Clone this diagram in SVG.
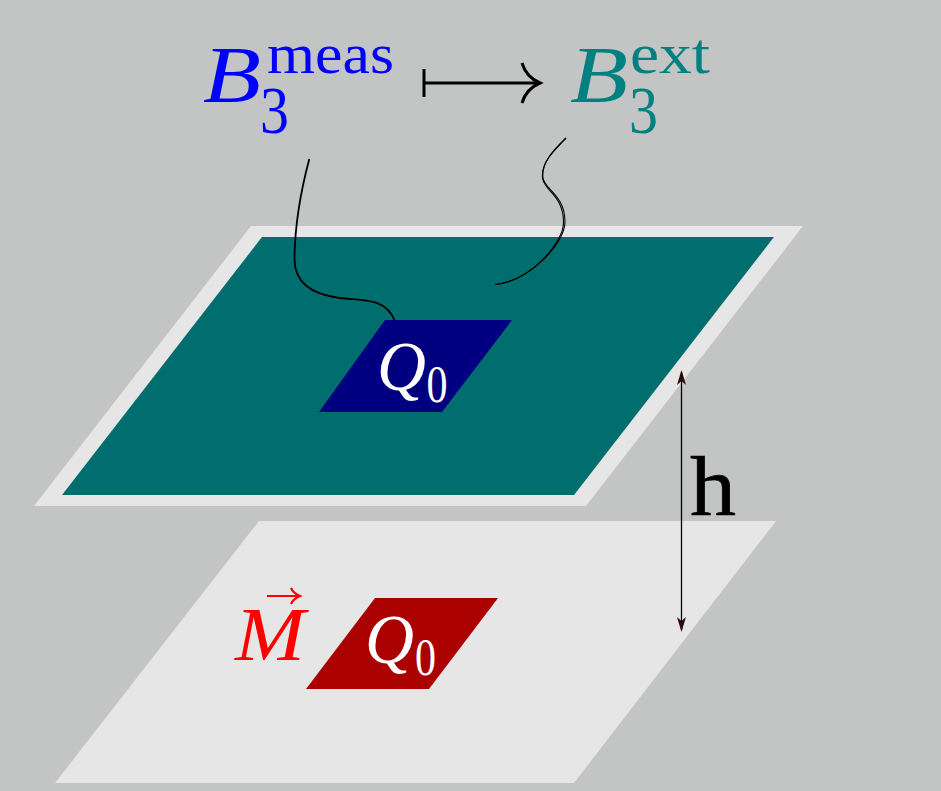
<svg xmlns="http://www.w3.org/2000/svg" width="941" height="791" viewBox="0 0 941 791">
<style>
text{font-family:"Liberation Serif","Times New Roman",serif}
.i{font-style:italic}
.w{fill:#fff}
.c{fill:none;stroke:#000}
</style>
<rect id="background" width="941" height="791" fill="#c3c5c4"/>
<g id="lower-plate"><polygon points="259,521 776,521 574,783 55,783" fill="#e6e6e6"/></g>
<g id="upper-plate-frame"><polygon points="251,226 803,226 586,506 34,506" fill="#e6e6e6"/></g>
<g id="upper-plate"><polygon points="262,237 774,237 574,495 62,495" fill="#006e6e"/></g>
<g id="q0-upper">
<polygon points="385,320 512,320 442,412 319,412" fill="#000080"/>
<text class="w" x="377" y="390" font-size="70"><tspan class="i" textLength="49" lengthAdjust="spacingAndGlyphs">Q</tspan><tspan x="426.500" y="402" font-size="52" textLength="21" lengthAdjust="spacingAndGlyphs">0</tspan></text>
</g>
<g id="q0-lower">
<polygon points="375,598 498,598 429,689 306,689" fill="#aa0000"/>
<text class="w" x="365" y="663" font-size="70"><tspan class="i" textLength="49" lengthAdjust="spacingAndGlyphs">Q</tspan><tspan x="415" y="675" font-size="52" textLength="21" lengthAdjust="spacingAndGlyphs">0</tspan></text>
</g>
<g id="m-label">
<text class="i" x="235" y="660" font-size="76" fill="#f00" textLength="70" lengthAdjust="spacingAndGlyphs">M</text>
<path d="M267,596H299M291,588Q293,593 300,596Q293,599 291,604" fill="none" stroke="#f00" stroke-width="2.200"/>
</g>
<g id="b-meas">
<text x="203" y="102" font-size="80" fill="#00f"><tspan class="i" textLength="58" lengthAdjust="spacingAndGlyphs">B</tspan><tspan x="267" y="73" font-size="57" textLength="127" lengthAdjust="spacingAndGlyphs">meas</tspan><tspan x="260" y="133" font-size="68" textLength="29" lengthAdjust="spacingAndGlyphs">3</tspan></text>
</g>
<g id="b-ext">
<text x="570" y="102" font-size="80" fill="#008080"><tspan class="i" textLength="58" lengthAdjust="spacingAndGlyphs">B</tspan><tspan x="630" y="73" font-size="57" textLength="80" lengthAdjust="spacingAndGlyphs">ext</tspan><tspan x="629" y="133" font-size="68" textLength="29" lengthAdjust="spacingAndGlyphs">3</tspan></text>
</g>
<g id="h-label"><text x="690" y="515" font-size="84" fill="#000" stroke="#000" stroke-width="0.6" textLength="46" lengthAdjust="spacingAndGlyphs">h</text></g>
<g id="connectors">
<path d="M424,69V97M424,83H538" fill="none" stroke="#000" stroke-width="3"/>
<path d="M522,63Q526,77 540,83Q526,89 522,103" fill="none" stroke="#000" stroke-width="3"/>
<path class="c" stroke-width="1.800" d="M309.3,159C301,190 295,220 294.5,258C294,280 308,294 340,298C365,301 385,298 394.500,320"/>
<path class="c" stroke-width="1.100" d="M566,138C553,151 541,163 543,178C545,190 565,195 565,222C565,243 530,281 495,284.500"/>
<path class="c" stroke-width="1.100" d="M566,138C553,151 541,163 542.500,178C544,191 563.500,195 563.500,222C564,243 530,281 495,284.500"/>
<path class="c" stroke-width="1.300" d="M681.500,372V630"/>
<polygon points="681.500,370 686,385 681.500,381 677,385" fill="#2a0a0a"/>
<polygon points="681.500,632 686,617 681.500,621 677,617" fill="#2a0a0a"/>
</g>
</svg>
